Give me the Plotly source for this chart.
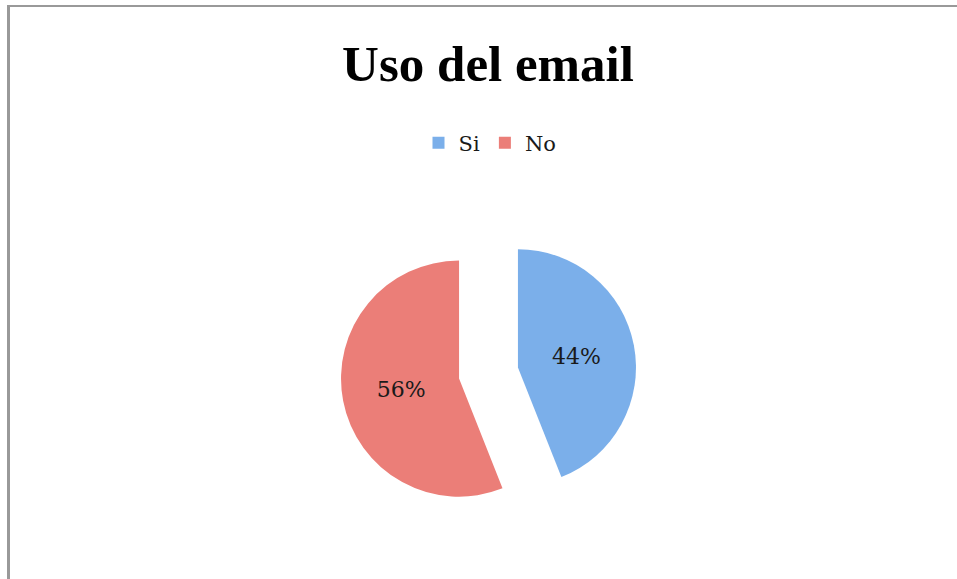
import plotly.graph_objects as go

categories = ["Si", "No"]
values = [44, 56]
colors = ["#7BAFEA", "#EB7E78"]
title_text = "Uso del email"

W, H = 957, 579
ml, mr, mt, mb = 20, 0, 225, 58

fig = go.Figure(go.Pie(
    labels=categories,
    values=values,
    sort=False,
    direction="clockwise",
    rotation=0,
    pull=[0.254, 0.254],
    marker=dict(colors=colors, line=dict(width=0)),
    textinfo="percent",
    texttemplate="%{percent:.0%}",
    textposition="inside",
    insidetextorientation="horizontal",
    textfont=dict(family="DejaVu Serif", size=22, color="#1a1a1a"),
    hoverinfo="label+percent",
))

pw = W - ml - mr
ph = H - mt - mb

def px_to_paper_x(px):
    return (px - ml) / pw

def px_to_paper_y(py):
    return (H - mb - py) / ph

fig.update_layout(
    width=W, height=H,
    margin=dict(l=ml, r=mr, t=mt, b=mb),
    paper_bgcolor="white",
    plot_bgcolor="white",
    title=dict(text="<b>" + title_text + "</b>", x=488 / W, xref="container", xanchor="center",
               y=1 - 63 / H, yref="container", yanchor="middle",
               font=dict(family="Liberation Serif", size=51, color="black")),
    legend=dict(orientation="h", x=490 / W, xref="container", xanchor="center",
                y=1 - 143 / H, yref="container", yanchor="middle",
                font=dict(family="DejaVu Serif", size=21, color="#1a1a1a"),
                itemwidth=30, bgcolor="rgba(0,0,0,0)"),
    shapes=[
        dict(type="line", xref="paper", yref="paper",
             x0=px_to_paper_x(8.5), x1=px_to_paper_x(8.5), y0=px_to_paper_y(5), y1=px_to_paper_y(585),
             line=dict(color="#999999", width=3)),
        dict(type="line", xref="paper", yref="paper",
             x0=px_to_paper_x(7), x1=px_to_paper_x(960), y0=px_to_paper_y(6), y1=px_to_paper_y(6),
             line=dict(color="#999999", width=2)),
    ],
)

fig.write_html("out.html", config={"displayModeBar": False},
               post_script="document.body.style.margin='0';")
